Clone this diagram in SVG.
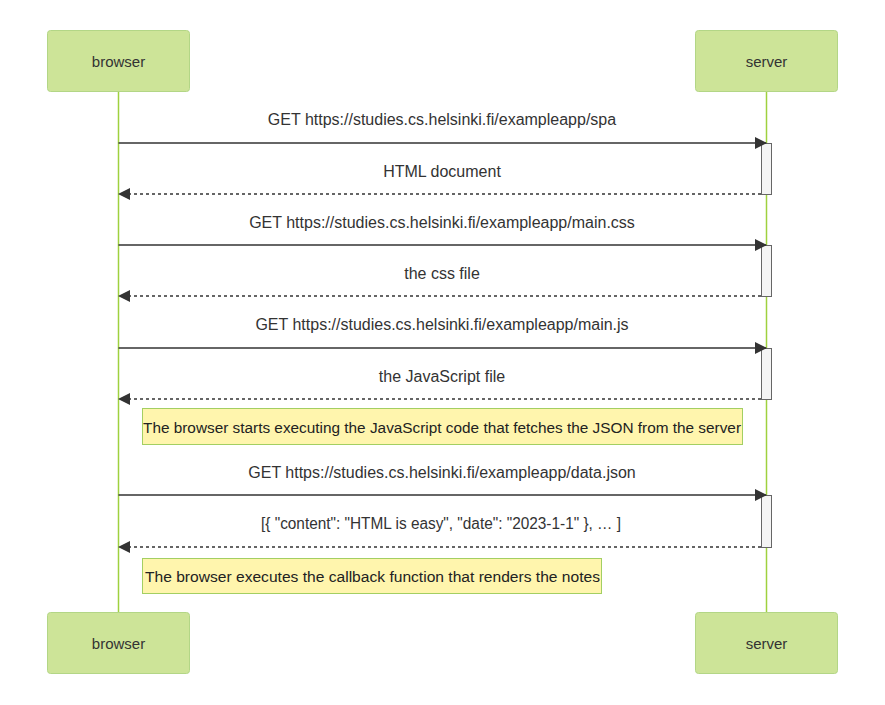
<svg xmlns="http://www.w3.org/2000/svg" width="885" height="705" viewBox="0 0 885 705">
  <defs>
    <marker id="arrowhead" viewBox="0 0 12 12" refX="11" refY="6" markerWidth="12" markerHeight="12" markerUnits="userSpaceOnUse" orient="auto">
      <path d="M0,0 L12,6 L0,12 z" fill="#333"/>
    </marker>
    <style>
      text { font-family: "Liberation Sans", Arial, sans-serif; fill: #333; }
      .actor rect { fill: #cde498; stroke: #b3d686; stroke-width: 1; }
      .actor text { font-size: 15px; text-anchor: middle; dominant-baseline: central; }
      .lifeline { stroke: #9fd13f; stroke-width: 1.5; }
      .msg { stroke: #333; stroke-width: 1.5; fill: none; marker-end: url(#arrowhead); }
      .reply { stroke-dasharray: 3 3; }
      .label { font-size: 16px; text-anchor: middle; dominant-baseline: central; }
      .activation { fill: #f4f4f4; stroke: #666; stroke-width: 1; }
      .note rect { fill: #fff5ad; stroke: #a3cf62; stroke-width: 1; }
      .note text { font-size: 15.4px; fill: #222; dominant-baseline: central; }
    </style>
  </defs>

  <!-- lifelines -->
  <g id="lifelines">
    <line class="lifeline" x1="118.5" y1="91" x2="118.5" y2="612"/>
    <line class="lifeline" x1="766.5" y1="91" x2="766.5" y2="612"/>
  </g>

  <!-- participants, top and bottom -->
  <g id="browser-top" class="actor">
    <rect x="47.5" y="30.5" width="142" height="61" rx="3"/>
    <text x="118.5" y="61">browser</text>
  </g>
  <g id="server-top" class="actor">
    <rect x="695.5" y="30.5" width="142" height="61" rx="3"/>
    <text x="766.5" y="61">server</text>
  </g>
  <g id="browser-bottom" class="actor">
    <rect x="47.5" y="612.5" width="142" height="61" rx="3"/>
    <text x="118.5" y="643">browser</text>
  </g>
  <g id="server-bottom" class="actor">
    <rect x="695.5" y="612.5" width="142" height="61" rx="3"/>
    <text x="766.5" y="643">server</text>
  </g>

  <!-- activation bars on the server -->
  <g id="activations">
    <rect class="activation" x="761.5" y="143.5" width="10" height="51"/>
    <rect class="activation" x="761.5" y="245.5" width="10" height="51"/>
    <rect class="activation" x="761.5" y="348.5" width="10" height="51"/>
    <rect class="activation" x="761.5" y="495.5" width="10" height="52"/>
  </g>

  <!-- messages -->
  <g id="connectors">
    <line class="msg" x1="118.5" y1="143" x2="766" y2="143"/>
    <line class="msg reply" x1="761" y1="194" x2="119" y2="194"/>
    <line class="msg" x1="118.5" y1="245" x2="766" y2="245"/>
    <line class="msg reply" x1="761" y1="296" x2="119" y2="296"/>
    <line class="msg" x1="118.5" y1="348" x2="766" y2="348"/>
    <line class="msg reply" x1="761" y1="399" x2="119" y2="399"/>
    <line class="msg" x1="118.5" y1="495" x2="766" y2="495"/>
    <line class="msg reply" x1="761" y1="547" x2="119" y2="547"/>
  </g>

  <g id="message-labels">
    <text class="label" x="442" y="119.5">GET https://studies.cs.helsinki.fi/exampleapp/spa</text>
    <text class="label" x="442" y="171.5">HTML document</text>
    <text class="label" x="442" y="222.5">GET https://studies.cs.helsinki.fi/exampleapp/main.css</text>
    <text class="label" x="442" y="273.5">the css file</text>
    <text class="label" x="442" y="324.5">GET https://studies.cs.helsinki.fi/exampleapp/main.js</text>
    <text class="label" x="442" y="376.5">the JavaScript file</text>
    <text class="label" x="442" y="472.5">GET https://studies.cs.helsinki.fi/exampleapp/data.json</text>
    <text class="label" x="441" y="523.5" textLength="360" lengthAdjust="spacingAndGlyphs">[{ "content": "HTML is easy", "date": "2023-1-1" }, … ]</text>
  </g>

  <!-- notes -->
  <g id="note-fetch-json" class="note">
    <rect x="142.5" y="408.5" width="600" height="36"/>
    <text x="143" y="427" textLength="598" lengthAdjust="spacingAndGlyphs">The browser starts executing the JavaScript code that fetches the JSON from the server</text>
  </g>
  <g id="note-render" class="note">
    <rect x="142.5" y="558.5" width="459" height="35"/>
    <text x="145" y="576" textLength="455" lengthAdjust="spacingAndGlyphs">The browser executes the callback function that renders the notes</text>
  </g>
</svg>
